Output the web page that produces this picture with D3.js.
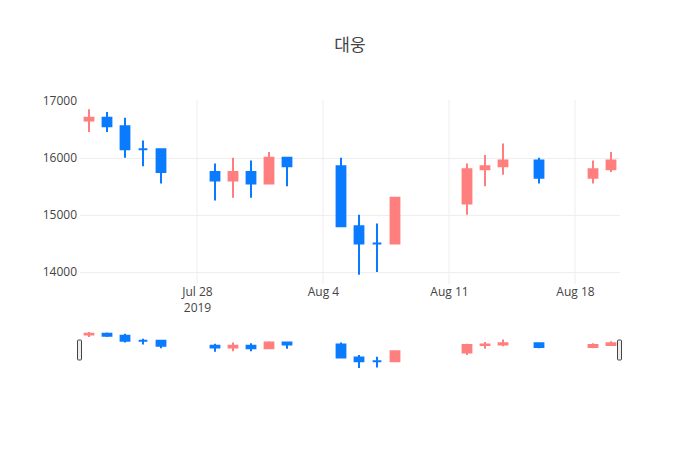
<!DOCTYPE html>
<html>
<head>
<meta charset="utf-8">
<script src="https://cdn.jsdelivr.net/npm/d3@7"></script>
<style>
  body { margin: 0; background: #fff; }
  text { font-family: "Open Sans", "Noto Sans CJK KR", sans-serif; }
</style>
</head>
<body>
<div id="chart"></div>
<script>
// Daily prices (KRW)
const dates = ["2019-07-22", "2019-07-23", "2019-07-24", "2019-07-25", "2019-07-26",
  "2019-07-29", "2019-07-30", "2019-07-31", "2019-08-01", "2019-08-02",
  "2019-08-05", "2019-08-06", "2019-08-07", "2019-08-08",
  "2019-08-12", "2019-08-13", "2019-08-14", "2019-08-16",
  "2019-08-19", "2019-08-20"];
const open = [16650, 16700, 16550, 16150, 16150, 15750, 15600, 15750, 15550, 16000,
  15850, 14800, 14500, 14500, 15200, 15800, 15850, 15950, 15650, 15800];
const high = [16850, 16800, 16700, 16300, 16150, 15900, 16000, 15950, 16100, 16000,
  16000, 15000, 14850, 15300, 15900, 16050, 16250, 16000, 15950, 16100];
const low = [16450, 16450, 16000, 15850, 15550, 15250, 15300, 15300, 15550, 15500,
  14800, 13950, 14000, 14500, 15000, 15500, 15700, 15550, 15550, 15750];
const close = [16700, 16550, 16150, 16150, 15750, 15600, 15750, 15550, 16000, 15850,
  14800, 14500, 14500, 15300, 15800, 15850, 15950, 15650, 15800, 15950];

const yTicks = [14000, 15000, 16000, 17000];
const xTicks = ["2019-07-28", "2019-08-04", "2019-08-11", "2019-08-18"];
const xTickLabels = [["Jul 28", "2019"], ["Aug 4"], ["Aug 11"], ["Aug 18"]];
const title = "대웅";

const upColor = "#ff7f7f";
const downColor = "#0a7bff";

const width = 700;
const height = 450;
const margin = { left: 80, right: 80, top: 100 };
const mainBottom = 284;
const slider = { top: 330, bottom: 370 };

const parse = d3.utcParse("%Y-%m-%d");
const day = 864e5;

const candles = dates.map((d, i) => ({
  t: parse(d), o: open[i], h: high[i], l: low[i], c: close[i]
}));

// direction: close vs open, ties use previous close, then previous direction
let prevClose = null, prevDir = -1;
candles.forEach(d => {
  let dir;
  if (d.c > d.o) dir = 1;
  else if (d.c < d.o) dir = -1;
  else if (prevClose != null && d.c > prevClose) dir = 1;
  else if (prevClose != null && d.c < prevClose) dir = -1;
  else dir = prevDir;
  d.dir = dir;
  prevClose = d.c;
  prevDir = dir;
});

const svg = d3.select("#chart")
  .append("svg")
  .attr("width", width)
  .attr("height", height);

// x scale, half a day of padding on each side
const x = d3.scaleUtc()
  .domain([new Date(+candles[0].t - day / 2), new Date(+candles[candles.length - 1].t + day / 2)])
  .range([margin.left, width - margin.right]);

// y domain padded like an autorange (5% of the length each side)
const yMin = d3.min(low), yMax = d3.max(high);
const pad = (yMax - yMin) / 18;
const y = d3.scaleLinear()
  .domain([yMin - pad, yMax + pad])
  .range([mainBottom, margin.top]);

const ySlider = d3.scaleLinear()
  .domain(y.domain())
  .range([slider.bottom, slider.top]);

// grid
const grid = svg.append("g");
grid.selectAll(".xgrid")
  .data(xTicks)
  .enter()
  .append("line")
  .attr("x1", d => x(parse(d)))
  .attr("x2", d => x(parse(d)))
  .attr("y1", margin.top)
  .attr("y2", mainBottom)
  .attr("stroke", "#eee")
  .attr("stroke-width", 1);

grid.selectAll(".ygrid")
  .data(yTicks.filter(v => y(v) > margin.top + 1))
  .enter()
  .append("line")
  .attr("x1", margin.left)
  .attr("x2", width - margin.right)
  .attr("y1", d => Math.round(y(d)) + 0.5)
  .attr("y2", d => Math.round(y(d)) + 0.5)
  .attr("stroke", "#eee")
  .attr("stroke-width", 1);

// y axis labels
const yAxis = svg.append("g")
  .attr("transform", `translate(${margin.left - 3},0)`)
  .call(d3.axisLeft(y).tickValues(yTicks).tickSize(0).tickPadding(0).tickFormat(d3.format("d")));
yAxis.select(".domain").remove();
yAxis.selectAll("text")
  .attr("fill", "#444")
  .attr("font-size", "12px")
  .attr("font-family", "'Open Sans', sans-serif");

// x axis labels
const xAxis = svg.append("g")
  .attr("transform", `translate(0,${mainBottom})`)
  .call(d3.axisBottom(x).tickValues(xTicks.map(parse)).tickSize(0).tickFormat(""));
xAxis.select(".domain").remove();
xAxis.selectAll(".tick text").remove();
xAxis.selectAll(".tick")
  .append("text")
  .attr("fill", "#444")
  .attr("font-size", "12px")
  .attr("text-anchor", "middle")
  .selectAll("tspan")
  .data((d, i) => xTickLabels[i])
  .enter()
  .append("tspan")
  .attr("x", 0)
  .attr("y", (d, j) => 12 + j * 15.6)
  .text(d => d);

// candle path: wick + body in one shape
function candlePath(d, ys) {
  const cx = x(d.t);
  const x0 = x(new Date(+d.t - 0.3 * day)) + 1;
  const x1 = x(new Date(+d.t + 0.3 * day)) - 1;
  const top = ys(Math.max(d.o, d.c));
  const bot = ys(Math.min(d.o, d.c));
  return `M${cx},${ys(d.l)}V${bot}M${x0},${bot}H${x1}V${top}H${x0}ZM${cx},${top}V${ys(d.h)}`;
}

function drawCandles(g, ys) {
  g.selectAll("path")
    .data(candles)
    .enter()
    .append("path")
    .attr("d", d => candlePath(d, ys))
    .attr("fill", d => d.dir > 0 ? upColor : downColor)
    .attr("stroke", d => d.dir > 0 ? upColor : downColor)
    .attr("stroke-width", 2);
}

drawCandles(svg.append("g"), y);

// range slider
const sl = svg.append("g");
sl.append("rect")
  .attr("x", margin.left)
  .attr("y", slider.top)
  .attr("width", width - margin.left - margin.right)
  .attr("height", slider.bottom - slider.top)
  .attr("fill", "#fff");

drawCandles(sl.append("g"), ySlider);

const mid = (slider.top + slider.bottom) / 2;
sl.selectAll(".handle")
  .data(x.range())
  .enter()
  .append("rect")
  .attr("x", d => d - 2.5)
  .attr("y", mid - 10)
  .attr("width", 4)
  .attr("height", 20)
  .attr("rx", 1)
  .attr("fill", "#eee")
  .attr("stroke", "#444")
  .attr("stroke-width", 1);

// title
svg.append("text")
  .attr("x", width / 2)
  .attr("y", 51)
  .attr("text-anchor", "middle")
  .attr("font-size", "17px")
  .attr("fill", "#444")
  .attr("font-family", "'Open Sans', 'Noto Sans CJK KR', sans-serif")
  .text(title);
</script>
</body>
</html>
